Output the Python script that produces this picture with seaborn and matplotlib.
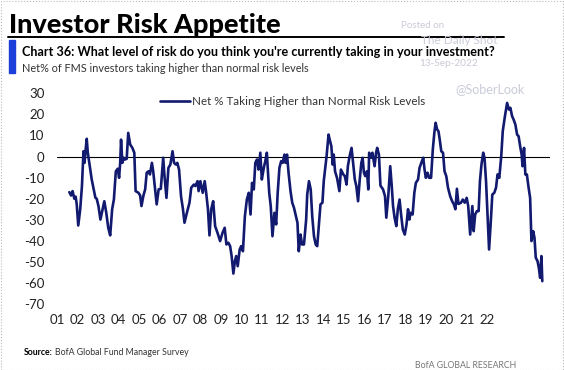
import pandas as pd
import seaborn as sns
import matplotlib.pyplot as plt
from matplotlib.patches import Rectangle
import numpy as np

# values (decimal years, net % taking higher than normal risk)
years = [
    2001.00, 2001.08, 2001.15, 2001.23, 2001.29, 2001.34, 2001.41, 2001.50, 2001.58, 2001.65,
    2001.70, 2001.75, 2001.80, 2001.85, 2001.93, 2002.03, 2002.14, 2002.20, 2002.26, 2002.34,
    2002.43, 2002.53, 2002.61, 2002.70, 2002.79, 2002.88, 2002.97, 2003.05, 2003.14, 2003.23,
    2003.29, 2003.34, 2003.38, 2003.44, 2003.50, 2003.56, 2003.64, 2003.71, 2003.80, 2003.90,
    2003.99, 2004.05, 2004.18, 2004.26, 2004.32, 2004.41, 2004.49, 2004.56, 2004.64, 2004.71,
    2004.80, 2004.86, 2004.93, 2005.02, 2005.11, 2005.21, 2005.32, 2005.38, 2005.47, 2005.56,
    2005.65, 2005.75, 2005.82, 2005.90, 2005.97, 2006.05, 2006.14, 2006.23, 2006.30, 2006.41,
    2006.53, 2006.61, 2006.73, 2006.80, 2006.90, 2006.95, 2007.03, 2007.14, 2007.23, 2007.29,
    2007.38, 2007.45, 2007.53, 2007.62, 2007.71, 2007.82, 2007.94, 2008.05, 2008.15, 2008.23,
    2008.32, 2008.40, 2008.47, 2008.55, 2008.62, 2008.68, 2008.75, 2008.84, 2008.91, 2008.99,
    2009.08, 2009.17, 2009.26, 2009.34, 2009.41, 2009.49, 2009.56, 2009.64, 2009.71, 2009.79,
    2009.86, 2009.95, 2010.02, 2010.09, 2010.20, 2010.27, 2010.35, 2010.44, 2010.52, 2010.59,
    2010.67, 2010.75, 2010.82, 2010.90, 2010.95, 2011.02, 2011.09, 2011.18, 2011.26, 2011.34,
    2011.43, 2011.50, 2011.56, 2011.64, 2011.71, 2011.80, 2011.90, 2011.95, 2012.03, 2012.11,
    2012.18, 2012.26, 2012.34, 2012.41, 2012.49, 2012.56, 2012.65, 2012.71, 2012.77, 2012.84,
    2012.93, 2013.00, 2013.06, 2013.12, 2013.17, 2013.23, 2013.32, 2013.43, 2013.50, 2013.61,
    2013.68, 2013.76, 2013.82, 2013.90, 2013.99, 2014.06, 2014.14, 2014.21, 2014.29, 2014.36,
    2014.44, 2014.50, 2014.56, 2014.62, 2014.70, 2014.76, 2014.80, 2014.90, 2014.95, 2015.05,
    2015.12, 2015.17, 2015.25, 2015.32, 2015.44, 2015.53, 2015.59, 2015.68, 2015.77, 2015.84,
    2015.90, 2015.97, 2016.05, 2016.12, 2016.20, 2016.27, 2016.35, 2016.44, 2016.52, 2016.59,
    2016.65, 2016.71, 2016.80, 2016.88, 2016.95, 2017.05, 2017.12, 2017.20, 2017.29, 2017.35,
    2017.41, 2017.49, 2017.56, 2017.65, 2017.73, 2017.80, 2017.86, 2017.93, 2017.99, 2018.05,
    2018.12, 2018.20, 2018.27, 2018.35, 2018.43, 2018.53, 2018.62, 2018.70, 2018.77, 2018.84,
    2018.91, 2019.03, 2019.11, 2019.20, 2019.29, 2019.36, 2019.45, 2019.55, 2019.61, 2019.68,
    2019.76, 2019.84, 2019.90, 2019.97, 2020.05, 2020.11, 2020.18, 2020.26, 2020.32, 2020.40,
    2020.47, 2020.56, 2020.64, 2020.71, 2020.79, 2020.88, 2020.95, 2021.05, 2021.15, 2021.23,
    2021.30, 2021.38, 2021.45, 2021.53, 2021.61, 2021.68, 2021.75, 2021.82, 2021.86, 2021.93,
    2021.99, 2022.06, 2022.14, 2022.21, 2022.27, 2022.35, 2022.41, 2022.47, 2022.55, 2022.61,
    2022.67, 2022.73, 2022.77,
]
net_risk = [
    -16.9, -18.5, -16.4, -20.0, -19.0, -22.7, -32.7, -25.0, -14.0, 2.5,
    -3.0, 3.3, 8.4, 1.8, -3.8, -10.9, -16.4, -19.6, -20.0, -23.5,
    -29.9, -25.0, -21.2, -26.7, -33.8, -37.4, -25.0, -20.4, -7.0, -5.8,
    -10.1, -3.0, 8.0, -3.0, -0.6, -1.4, -1.1, 11.2, 5.7, 4.1,
    1.8, -16.4, -17.2, -18.5, -23.5, -18.5, -15.6, -7.7, -7.0, -8.5,
    -3.0, -7.0, -14.0, -22.7, -15.6, -15.3, -0.6, -9.3, -19.6, -5.4,
    -3.8, 2.5, -3.0, -3.8, -3.0, -6.2, -18.8, -25.0, -31.4, -26.7,
    -21.9, -14.8, -13.3, -14.0, -11.7, -16.4, -11.7, -17.2, -11.7, -16.4,
    -25.0, -37.4, -25.0, -21.2, -33.0, -36.2, -40.1, -36.2, -33.8, -41.7,
    -40.9, -42.5, -47.2, -55.5, -49.6, -47.2, -52.0, -44.1, -42.5, -44.9,
    -28.3, -20.4, -17.2, -27.5, -12.5, -15.6, -3.0, -1.4, -6.2, 1.8,
    -10.9, -5.4, -2.2, 1.8, -17.2, -23.5, -37.8, -26.7, -32.2, -17.2,
    -5.4, -2.2, -3.0, 0.9, -3.0, 0.9, -7.7, -16.4, -21.9, -24.3,
    -28.3, -31.4, -44.9, -37.0, -41.7, -41.7, -29.9, -18.0, -11.7, -15.6,
    -28.3, -37.8, -41.7, -42.5, -32.2, -22.7, -21.9, -11.7, -6.2, 0.1,
    10.4, 7.3, 4.9, -3.8, 0.9, -7.0, -10.1, -16.4, -6.2, -8.5,
    -9.3, -13.3, -4.6, 0.1, 4.1, -3.0, -10.9, -14.0, -21.2, -11.7,
    -3.0, -0.6, -7.7, -9.3, -7.0, -15.6, 1.8, -0.6, 1.8, -4.6,
    1.8, 4.1, 0.9, -13.8, -15.6, -18.8, -29.0, -18.8, -4.6, -14.0,
    -23.5, -29.0, -33.0, -25.0, -20.4, -27.5, -34.6, -37.0, -32.2, -25.0,
    -29.9, -26.7, -27.5, -17.2, -12.5, -10.9, -5.4, -3.0, -0.6, -6.2,
    -10.1, -7.7, -10.1, -10.1, 3.3, 11.2, 16.0, 12.8, 12.0, 8.0,
    2.5, 1.8, -7.0, -9.3, -14.8, -18.8, -21.2, -22.7, -25.0, -15.3,
    -22.5, -21.9, -20.4, -21.9, -19.6, -23.5, -37.0, -23.5, -35.4, -27.5,
    -25.9, -25.9, -11.7, -3.8, 1.8, -0.6, -11.7, -30.7, -44.1, -30.7,
    -18.0, -17.2, -14.8, -8.5, -10.1, 0.1, 12.0, 19.1, 25.4, 22.3,
    23.1, 19.1, 17.5, 15.2, 10.4, 9.6, 4.9, 0.9, -4.6, 4.1,
    -8.5, -8.5, -14.8, -19.6, -40.1, -35.4, -38.5, -48.0, -49.6, -52.7,
    -57.5, -47.2, -59.1,
]
tick_labels = ["01", "02", "03", "04", "05", "06", "07", "08", "09", "10", "11",
               "12", "13", "14", "15", "16", "17", "18", "19", "20", "21", "22"]
y_ticks = [30, 20, 10, 0, -10, -20, -30, -40, -50, -60, -70]
series_name = "Net % Taking Higher than Normal Risk Levels"

df = pd.DataFrame({"date": years, "value": net_risk})

sns.set_theme(style="white")
plt.rcParams["font.family"] = ["Lato", "DejaVu Sans"]

navy = "#111a6e"
fig = plt.figure(figsize=(5.64, 3.70), dpi=100)
ax = fig.add_axes([0.101, 0.178, 0.874, 0.570])

sns.lineplot(data=df, x="date", y="value", ax=ax, color=navy, linewidth=1.9,
             label=series_name)
ax.axhline(0, color="black", linewidth=0.8, zorder=1)

ax.set_xlim(2000.71, 2023.12)
ax.set_ylim(-70, 30)
ax.set_yticks(y_ticks)
ax.set_yticklabels([str(v) for v in y_ticks])
# Excel-style category labels, evenly spread under the plot
ax.set_xticks(np.linspace(2000.43, 2020.25, len(tick_labels)))
ax.set_xticklabels(tick_labels)
ax.tick_params(axis="both", length=0, labelsize=9.5, colors="#222222")
ax.tick_params(axis="y", pad=9)
ax.tick_params(axis="x", pad=7)
ax.set_xlabel("")
ax.set_ylabel("")
for s in ax.spines.values():
    s.set_visible(False)

leg = ax.legend(loc="upper left", bbox_to_anchor=(0.188, 1.035), frameon=False,
                fontsize=8.4, handlelength=2.6, handletextpad=0.1)
for t in leg.get_texts():
    t.set_color("#333333")

# header
fig.text(0.016, 0.965, "Investor Risk Appetite", fontsize=19.5, fontweight="black",
         va="top", ha="left", color="black")
fig.add_artist(plt.Line2D([0.014, 0.893], [0.899, 0.899], color="black", linewidth=1.4))
fig.add_artist(Rectangle((0.016, 0.803), 0.011, 0.089, color="#1c3fd9"))
fig.text(0.039, 0.848, "Chart 36: What level of risk do you think you're currently taking in your investment?",
         fontsize=9.1, fontweight="bold", va="baseline", ha="left", color="black")
fig.text(0.039, 0.806, "Net% of FMS investors taking higher than normal risk levels",
         fontsize=7.8, va="baseline", ha="left", color="#333333")

# watermark
wm = "#c9cbd8"
fig.text(0.75, 0.925, "Posted on", fontsize=7, color=wm, ha="center")
fig.text(0.815, 0.882, "The Daily Shot", fontsize=8.5, color=wm, ha="center")
fig.text(0.795, 0.822, "13-Sep-2022", fontsize=7.2, color=wm, ha="center")
fig.text(0.868, 0.748, "@SoberLook", fontsize=9, color=wm, ha="center")

# footer
fig.text(0.043, 0.04, "Source:", fontsize=6.3, fontweight="bold", color="black", va="baseline")
fig.text(0.098, 0.04, "BofA Global Fund Manager Survey", fontsize=6.3, color="#333333", va="baseline")
fig.text(0.915, 0.005, "BofA GLOBAL RESEARCH", fontsize=6.3, color="#777777", ha="right", va="baseline")

fig.add_artist(Rectangle((0.001, 0.001), 0.997, 0.997, fill=False, edgecolor="#bbbbbb",
                         linestyle=":", linewidth=0.8))

fig.savefig("out.png", dpi=100)
